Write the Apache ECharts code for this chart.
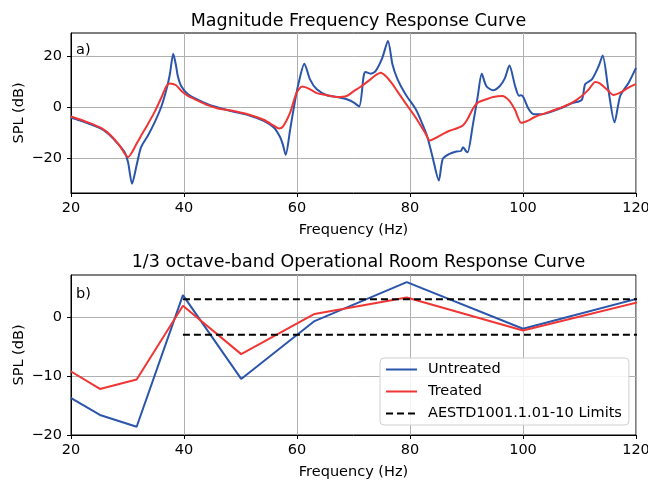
<!DOCTYPE html>
<html>
<head>
<meta charset="utf-8">
<script src="https://cdn.jsdelivr.net/npm/echarts@6/dist/echarts.min.js"></script>
<style>
  html, body { margin: 0; padding: 0; background: #fff; }
  #chart { width: 648px; height: 481px; }
</style>
</head>
<body>
<div id="chart"></div>
<script>
// Panel a) narrow-band magnitude response (Hz, dB SPL)
const magFreqUntreated = [20, 21.5, 23, 25.4, 27.1, 28.6, 29.5, 30.1, 30.8, 31.6, 32.4, 33.6, 34.8, 36.0, 36.9, 37.5, 38.1, 38.6, 38.9, 39.5, 40.7, 42.5, 44.2, 46.0, 48.1, 51.7, 54.1, 55.9, 57.0, 57.5, 58.0, 58.8, 59.7, 60.3, 61.3, 62.3, 63.5, 65.3, 67.1, 68.8, 70.0, 71.0, 71.8, 72.1, 73.0, 73.9, 75.1, 76.1, 76.9, 77.8, 79.2, 81.0, 82.2, 83.1, 84.0, 85.1, 85.8, 87.0, 88.2, 89.0, 89.4, 89.9, 90.2, 91.1, 92.0, 92.7, 93.5, 94.7, 95.9, 96.8, 97.6, 98.6, 99.3, 99.7, 100.1, 101.0, 101.9, 103.4, 106.3, 108.7, 110.4, 111.0, 112.2, 113.4, 114.1, 115.1, 116.2, 117.2, 118.7, 120];
const magUntreated = [-4.0, -5.0, -6.2, -8.4, -11.3, -14.9, -17.5, -21.4, -29.8, -22.7, -15.5, -11.0, -5.8, 0.4, 7.1, 13.0, 21.0, 16.2, 12.3, 8.4, 5.2, 3.0, 1.3, 0.0, -1.3, -3.2, -5.2, -7.8, -11.5, -14.5, -18.5, -8.4, 3.2, 9.7, 17.1, 11.0, 7.1, 4.8, 4.1, 3.2, 2.0, 0.4, 12.3, 13.9, 13.2, 14.2, 19.4, 26.0, 16.8, 11.0, 5.2, -0.6, -6.5, -11.7, -19.4, -28.5, -20.1, -18.1, -17.2, -17.0, -15.5, -17.0, -17.5, -7.1, 4.5, 13.2, 8.4, 6.7, 8.4, 11.5, 16.4, 8.4, 4.6, 4.8, 3.9, -0.6, -2.6, -2.6, -0.6, 1.7, 3.0, 9.1, 11.0, 16.2, 20.3, 7.1, -5.8, 4.5, 9.7, 15.5];

const magFreqTreated = [20, 23, 25.4, 27.1, 28.6, 29.5, 30.1, 30.8, 31.6, 32.4, 33.6, 34.8, 36.0, 36.9, 37.5, 38.6, 39.5, 40.7, 42.5, 44.2, 46.0, 48.1, 51.7, 54.1, 55.9, 56.8, 57.5, 58.8, 59.7, 60.3, 61.0, 62.3, 63.5, 65.3, 67.1, 68.8, 70.0, 71.2, 73.0, 73.9, 74.8, 75.7, 76.9, 78.1, 79.2, 81.0, 82.8, 83.5, 85.8, 87.0, 88.2, 89.4, 90.2, 91.1, 92.0, 93.5, 94.7, 96.3, 97.6, 98.6, 99.7, 101.0, 101.9, 103.4, 106.3, 108.7, 110.4, 111.6, 112.8, 113.6, 115.1, 116.0, 117.2, 118.7, 120];
const magTreated = [-3.5, -5.8, -8.1, -11.0, -14.9, -18.0, -19.4, -17.5, -14.2, -11.0, -6.5, -1.7, 3.9, 8.4, 9.4, 8.7, 6.5, 4.5, 2.6, 0.9, -0.4, -1.1, -2.9, -4.8, -7.1, -8.2, -7.5, -1.9, 4.5, 7.1, 8.2, 7.1, 5.6, 4.8, 4.1, 4.5, 6.3, 8.0, 11.0, 12.6, 13.6, 12.3, 9.1, 5.2, 1.7, -3.9, -10.4, -12.9, -10.4, -9.1, -8.2, -6.9, -4.5, -0.6, 1.9, 3.2, 4.1, 4.5, 2.6, -1.0, -6.0, -5.0, -3.9, -2.6, -0.4, 1.9, 4.5, 7.0, 10.0, 9.4, 6.5, 4.9, 5.8, 7.8, 9.1];

// Panel b) 1/3 octave-band levels
const bandFreqs = [19.95, 25.12, 31.62, 39.81, 50.12, 63.1, 79.43, 100, 125.89];
const bandUntreated = [-13.7, -16.6, -18.6, 3.7, -10.5, -0.7, 5.9, -2.0, 4.5];
const bandTreated = [-9.2, -12.2, -10.6, 1.9, -6.3, 0.5, 3.3, -2.3, 3.8];

// Tolerance limits applied from 40 Hz upward
const limitFreqs = [39.81, 125.89];
const limitUpper = [3, 3];
const limitLower = [-3, -3];

// Axis tick values
const freqTicks = [20, 40, 60, 80, 100, 120];
const magTicks = [-20, 0, 20];
const bandTicks = [-20, -10, 0];

const zip = (xs, ys) => xs.map((x, i) => [x, ys[i]]);

const FONT = 'DejaVu Sans';
const FS = 14.5;
const BLUE = '#2b55ab';
const RED = '#f03535';
const minus = v => String(v).replace('-', '\u2212');

function xAxisCfg(gridIndex) {
  return {
    type: 'value', gridIndex, min: 20, max: 120, interval: 20,
    name: 'Frequency (Hz)', nameLocation: 'middle', nameGap: 29.5, nameMoveOverlap: false,
    nameTextStyle: { fontFamily: FONT, fontSize: FS, color: '#000' },
    axisLine: { show: true, onZero: false, lineStyle: { color: '#000', width: 1 } },
    axisTick: { show: true, length: 4, lineStyle: { color: '#000' } },
    axisLabel: { fontFamily: FONT, fontSize: FS, color: '#000', margin: 8,
                 customValues: freqTicks },
    splitLine: { show: true, lineStyle: { color: '#b0b0b0', width: 1 } }
  };
}

function yAxisCfg(gridIndex, min, max, ticks) {
  return {
    type: 'value', gridIndex, min, max,
    name: 'SPL (dB)', nameLocation: 'middle', nameGap: 44.5, nameRotate: 90, nameMoveOverlap: false,
    nameTextStyle: { fontFamily: FONT, fontSize: FS, color: '#000' },
    axisLine: { show: true, onZero: false, lineStyle: { color: '#000', width: 1 } },
    axisTick: { show: true, length: 4, lineStyle: { color: '#000' }, customValues: ticks },
    axisLabel: { fontFamily: FONT, fontSize: FS, color: '#000', margin: 9,
                 customValues: ticks, formatter: minus },
    splitLine: { show: true, lineStyle: { color: '#b0b0b0', width: 1 } }
  };
}

function lineSeries(name, data, color, xi, extra) {
  return Object.assign({
    type: 'line', name, data, xAxisIndex: xi, yAxisIndex: xi,
    symbol: 'none', clip: true, animation: false,
    lineStyle: { color, width: 2 }, itemStyle: { color }
  }, extra || {});
}

const chart = echarts.init(document.getElementById('chart'), null, { renderer: 'canvas' });

chart.setOption({
  animation: false,
  backgroundColor: '#fff',
  title: [
    { text: 'Magnitude Frequency Response Curve', left: 353.5, top: 7, textAlign: 'center',
      textStyle: { fontFamily: FONT, fontSize: 17.5, fontWeight: 'normal', color: '#000' } },
    { text: '1/3 octave-band Operational Room Response Curve', left: 353.5, top: 248, textAlign: 'center',
      textStyle: { fontFamily: FONT, fontSize: 17.5, fontWeight: 'normal', color: '#000' } }
  ],
  grid: [
    { left: 71, right: 12, top: 33, height: 160, outerBoundsMode: 'none', containLabel: false,
      show: true, borderColor: '#000', borderWidth: 1 },
    { left: 71, right: 12, top: 275, height: 160, outerBoundsMode: 'none', containLabel: false,
      show: true, borderColor: '#000', borderWidth: 1 }
  ],
  xAxis: [xAxisCfg(0), xAxisCfg(1)],
  yAxis: [yAxisCfg(0, -33.4, 29.1, magTicks), yAxisCfg(1, -20, 7.1, bandTicks)],
  legend: {
    show: true, orient: 'vertical', left: 380, top: 358,
    data: ['Untreated', 'Treated', 'AESTD1001.1.01-10 Limits'],
    itemWidth: 31, itemHeight: 12, itemGap: 5,
    itemStyle: { opacity: 0 },
    padding: [3, 7, 3, 5],
    backgroundColor: 'rgba(255,255,255,0.85)', borderColor: '#d0d0d0', borderWidth: 1, borderRadius: 4,
    textStyle: { fontFamily: FONT, fontSize: FS, lineHeight: 17, color: '#000', padding: [0, 0, 0, 6] }
  },
  graphic: [
    { type: 'text', left: 76, top: 43, style: { text: 'a)', font: FS + 'px "DejaVu Sans"', fill: '#000' } },
    { type: 'text', left: 76, top: 287, style: { text: 'b)', font: FS + 'px "DejaVu Sans"', fill: '#000' } }
  ],
  series: [
    lineSeries('mag-untreated', zip(magFreqUntreated, magUntreated), BLUE, 0, { smooth: 0.25 }),
    lineSeries('mag-treated', zip(magFreqTreated, magTreated), RED, 0, { smooth: 0.25 }),
    lineSeries('Untreated', zip(bandFreqs, bandUntreated), BLUE, 1),
    lineSeries('Treated', zip(bandFreqs, bandTreated), RED, 1),
    lineSeries('AESTD1001.1.01-10 Limits', zip(limitFreqs, limitUpper), '#000', 1,
      { lineStyle: { color: '#000', width: 2, type: [7, 4] } }),
    lineSeries('AESTD1001.1.01-10 Limits', zip(limitFreqs, limitLower), '#000', 1,
      { lineStyle: { color: '#000', width: 2, type: [7, 4] } })
  ]
});
</script>
</body>
</html>
